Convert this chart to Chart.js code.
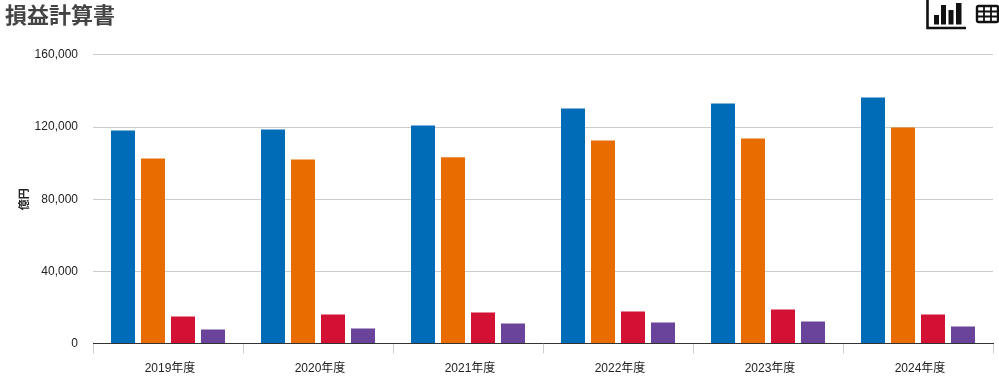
<!DOCTYPE html>
<html lang="ja">
<head>
<meta charset="utf-8">
<title>損益計算書</title>
<script src="https://cdn.jsdelivr.net/npm/chart.js@4"></script>
<style>
  html, body { margin: 0; padding: 0; background: #fff; }
  #wrap { position: relative; width: 999px; height: 380px; overflow: hidden; }
  #heading {
    position: absolute; left: 5px; top: 1px; margin: 0;
    font: bold 22px/30px "Liberation Sans", "Noto Sans CJK JP", sans-serif;
    color: #444;
  }
  #chartIcon { position: absolute; left: 926px; top: 0; }
  #tableIcon { position: absolute; left: 975px; top: 4px; }
  canvas { position: absolute; left: 0; top: 0; }
</style>
</head>
<body>
<div id="wrap">
  <canvas id="chart" width="999" height="380"></canvas>
  <h1 id="heading">損益計算書</h1>
  <svg id="chartIcon" width="40" height="30" viewBox="0 0 40 30">
    <path d="M1.5 0V28H40" fill="none" stroke="#111" stroke-width="2.6"/>
    <rect x="8" y="15" width="5" height="9.5" fill="#111"/>
    <rect x="15" y="5" width="5" height="19.5" fill="#111"/>
    <rect x="22.5" y="10" width="5" height="14.5" fill="#111"/>
    <rect x="30" y="3" width="5.5" height="21.5" fill="#111"/>
  </svg>
  <svg id="tableIcon" width="24" height="20" viewBox="0 0 24 20">
    <rect x="2" y="2" width="21" height="16" rx="1.5" fill="none" stroke="#111" stroke-width="2.4"/>
    <path d="M2 7.5H23M2 12.5H23M9 2V18M16 2V18" fill="none" stroke="#111" stroke-width="1.8"/>
  </svg>
</div>
<script>
const years = ["2019年度", "2020年度", "2021年度", "2022年度", "2023年度", "2024年度"];
const revenue = [118100, 118700, 120900, 130300, 133100, 136400];
const expenses = [102600, 102000, 103200, 112600, 113700, 119800];
const operatingProfit = [15000, 16100, 17200, 17700, 18900, 16100];
const netProfit = [7800, 8300, 11100, 11600, 12200, 9400];
const yTicks = [0, 40000, 80000, 120000, 160000];

const fontFamily = '"Liberation Sans", "Noto Sans CJK JP", sans-serif';

// Chart.js would place ticks on its own, so force the ones in the picture
function useTicks(scale) {
  scale.ticks = yTicks.map((value) => ({ value }));
}

new Chart(document.getElementById("chart"), {
  type: "bar",
  data: {
    labels: years,
    datasets: [
      { label: "売上高", data: revenue, backgroundColor: "#006cb7" },
      { label: "費用", data: expenses, backgroundColor: "#e86c00" },
      { label: "営業利益", data: operatingProfit, backgroundColor: "#d31135" },
      { label: "純利益", data: netProfit, backgroundColor: "#69449a" },
    ],
  },
  options: {
    responsive: false,
    animation: false,
    layout: { padding: { top: 54.9, right: 6, left: 0, bottom: 0 } },
    datasets: { bar: { categoryPercentage: 0.8, barPercentage: 0.8 } },
    plugins: { legend: { display: false }, tooltip: { enabled: false } },
    scales: {
      x: {
        afterFit: (scale) => { scale.height = 36.5; },
        grid: { drawOnChartArea: false, color: "#ccc", tickLength: 10, offset: true },
        border: { color: "#333" },
        ticks: { color: "#222", font: { family: fontFamily, size: 12 }, padding: 8, maxRotation: 0, labelOffset: 2 },
      },
      y: {
        min: 0,
        max: 160000,
        afterBuildTicks: useTicks,
        afterFit: (scale) => { scale.width = 93; },
        title: {
          display: true,
          text: "億円",
          color: "#222",
          font: { family: fontFamily, size: 11, weight: "bold" },
          padding: { top: 18, bottom: 0 },
        },
        grid: { color: "#ccc", drawTicks: false },
        border: { display: false },
        ticks: {
          color: "#222",
          font: { family: fontFamily, size: 12 },
          padding: 15,
          callback: (value) => value.toLocaleString("en-US"),
        },
      },
    },
  },
});
</script>
</body>
</html>
